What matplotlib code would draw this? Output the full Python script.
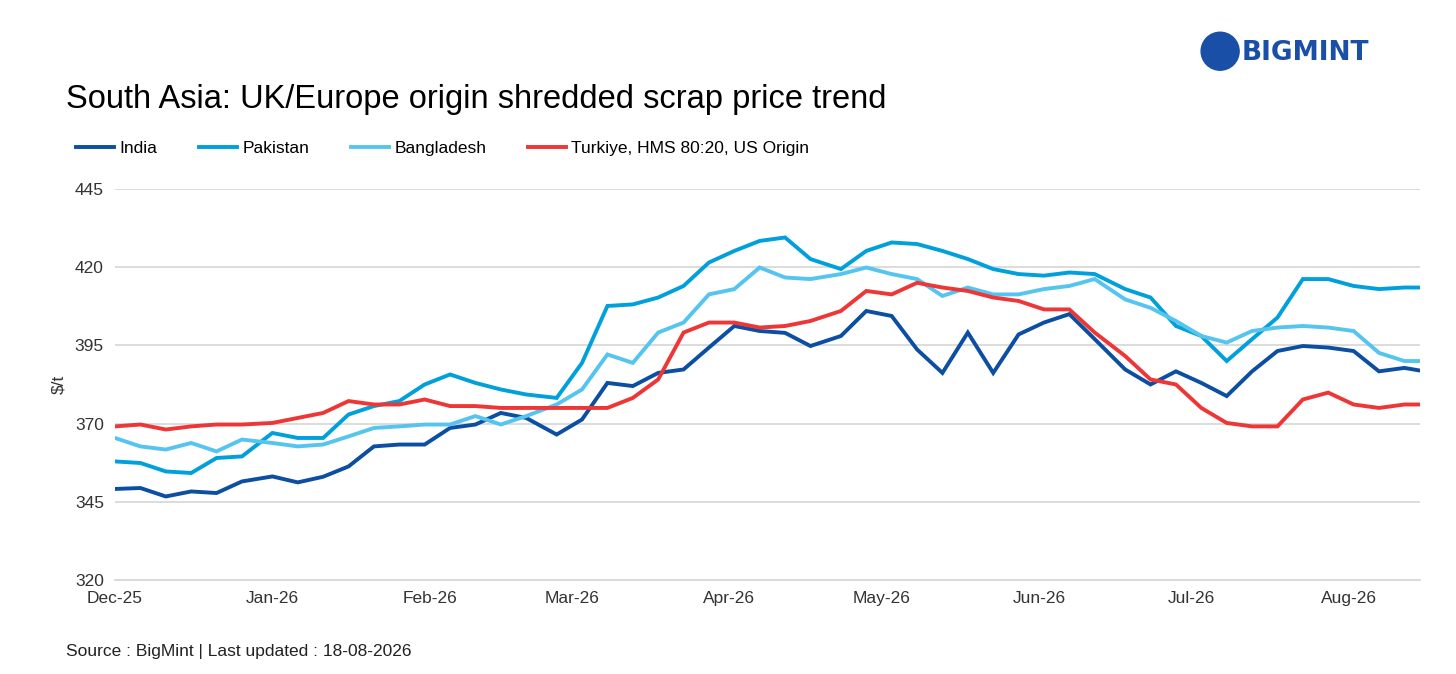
import matplotlib.pyplot as plt
import matplotlib.dates as mdates
from matplotlib.patches import Ellipse
import pandas as pd

plt.rcParams['font.family'] = ['Liberation Sans', 'DejaVu Sans']

# ==============================
# Data
# ==============================
start = pd.Timestamp("2025-12-01")
days = [0, 5, 10, 15, 20, 25, 31, 36, 41, 46, 51, 56, 61, 66, 71, 76, 81, 87, 92, 97,
        102, 107, 112, 117, 122, 127, 132, 137, 143, 148, 153, 158, 163, 168, 173, 178,
        183, 188, 193, 199, 204, 209, 214, 219, 224, 229, 234, 239, 244, 249, 254, 258, 259]

india = [349.1, 349.4, 346.7, 348.3, 347.8, 351.5, 353.1, 351.2, 353.0, 356.3, 362.7, 363.3,
         363.3, 368.6, 369.7, 373.4, 371.8, 366.5, 371.3, 383.0, 382.0, 386.2, 387.3, 394.3,
         401.2, 399.6, 399.0, 394.8, 398.0, 406.0, 404.4, 393.7, 386.2, 399.1, 386.2, 398.5,
         402.3, 405.0, 397.0, 387.3, 382.5, 386.7, 383.0, 378.8, 386.7, 393.2, 394.8, 394.3,
         393.2, 386.7, 387.8, 386.7, 393.2]
pakistan = [357.9, 357.4, 354.7, 354.2, 359.0, 359.5, 367.0, 365.4, 365.4, 372.9, 375.6, 377.2,
            382.5, 385.7, 383.0, 380.9, 379.3, 378.2, 389.4, 407.6, 408.1, 410.3, 414.0, 421.5,
            425.2, 428.4, 429.5, 422.6, 419.4, 425.2, 427.9, 427.4, 425.2, 422.6, 419.4, 417.8,
            417.3, 418.3, 417.8, 413.0, 410.3, 401.2, 398.0, 390.0, 397.0, 403.9, 416.2, 416.2,
            414.0, 413.0, 413.5, 413.5, 415.0]
bangladesh = [365.4, 362.7, 361.7, 363.8, 361.1, 364.9, 363.8, 362.7, 363.3, 365.9, 368.6, 369.1,
              369.7, 369.7, 372.4, 369.7, 372.4, 376.1, 380.9, 392.1, 389.4, 399.1, 402.3, 411.3,
              413.0, 419.9, 416.7, 416.2, 417.8, 419.9, 417.8, 416.2, 410.8, 413.5, 411.3, 411.3,
              413.0, 414.0, 416.2, 409.7, 407.0, 402.8, 398.0, 395.9, 399.6, 400.7, 401.2, 400.7,
              399.6, 392.6, 390.0, 390.0, 395.3]
turkiye = [369.1, 369.7, 368.1, 369.1, 369.7, 369.7, 370.2, 371.8, 373.4, 377.2, 376.1, 376.1,
           377.7, 375.6, 375.6, 375.0, 375.0, 375.0, 375.0, 375.0, 378.2, 384.1, 399.1, 402.3,
           402.3, 400.7, 401.2, 402.8, 406.0, 412.4, 411.3, 415.0, 413.5, 412.4, 410.3, 409.2,
           406.5, 406.5, 399.1, 391.6, 384.1, 382.5, 375.0, 370.2, 369.1, 369.1, 377.7, 379.9,
           376.1, 375.0, 376.1, 376.1, 376.1]

series = {
    "India": (india, "#0b4ea2"),
    "Pakistan": (pakistan, "#00a0dc"),
    "Bangladesh": (bangladesh, "#55c5f0"),
    "Turkiye, HMS 80:20, US Origin": (turkiye, "#ee3636"),
}
month_ticks = ["2025-12-01", "2026-01-01", "2026-02-01", "2026-03-01", "2026-04-01",
               "2026-05-01", "2026-06-01", "2026-07-01", "2026-08-01"]
y_ticks = [320, 345, 370, 395, 420, 445]

dates = start + pd.to_timedelta(days, unit="D")

# ==============================
# Plot
# ==============================
fig = plt.figure(figsize=(14.56, 6.74), dpi=100)
ax = fig.add_axes([0.079, 0.1395, 0.896, 0.5801])

for name, (vals, col) in series.items():
    ax.plot(dates, vals, color=col, lw=2.8, label=name, solid_joinstyle="miter")

ax.set_ylim(320, 445)
ax.set_yticks(y_ticks)
ax.set_xlim(start, pd.Timestamp("2026-08-15"))
ax.set_xticks(pd.to_datetime(month_ticks))
ax.xaxis.set_major_formatter(mdates.DateFormatter("%b-%y"))
ax.grid(axis="y", color="#d9d9d9", lw=1.3)
ax.set_axisbelow(True)
for s in ["top", "right", "left"]:
    ax.spines[s].set_visible(False)
ax.spines["bottom"].set_color("#d9d9d9")
ax.spines["bottom"].set_linewidth(1.3)
ax.tick_params(length=0, labelsize=12.5, colors="#333333", pad=8)
ax.set_ylabel("$/t", fontsize=12.5, color="#333333", labelpad=6)

ax.legend(loc="lower left", bbox_to_anchor=(-0.042, 1.045), ncol=4, frameon=False,
          fontsize=12.5, handlelength=2.2, handletextpad=0.3, columnspacing=2.4)

fig.text(0.045, 0.84, "South Asia: UK/Europe origin shredded scrap price trend",
         fontsize=23.5, color="black")
fig.text(0.045, 0.027, "Source : BigMint | Last updated : 18-08-2026", fontsize=12.5, color="#222222")

# logo
fig.patches.append(Ellipse((0.838, 0.924), 38 / 1456, 38 / 674, transform=fig.transFigure,
                           color="#1a4fa8"))
fig.text(0.853, 0.922, "BIGMINT", fontsize=19, fontweight="bold", color="#1a4fa8",
         va="center", ha="left", family="DejaVu Sans")

fig.savefig("out.png", dpi=100)
